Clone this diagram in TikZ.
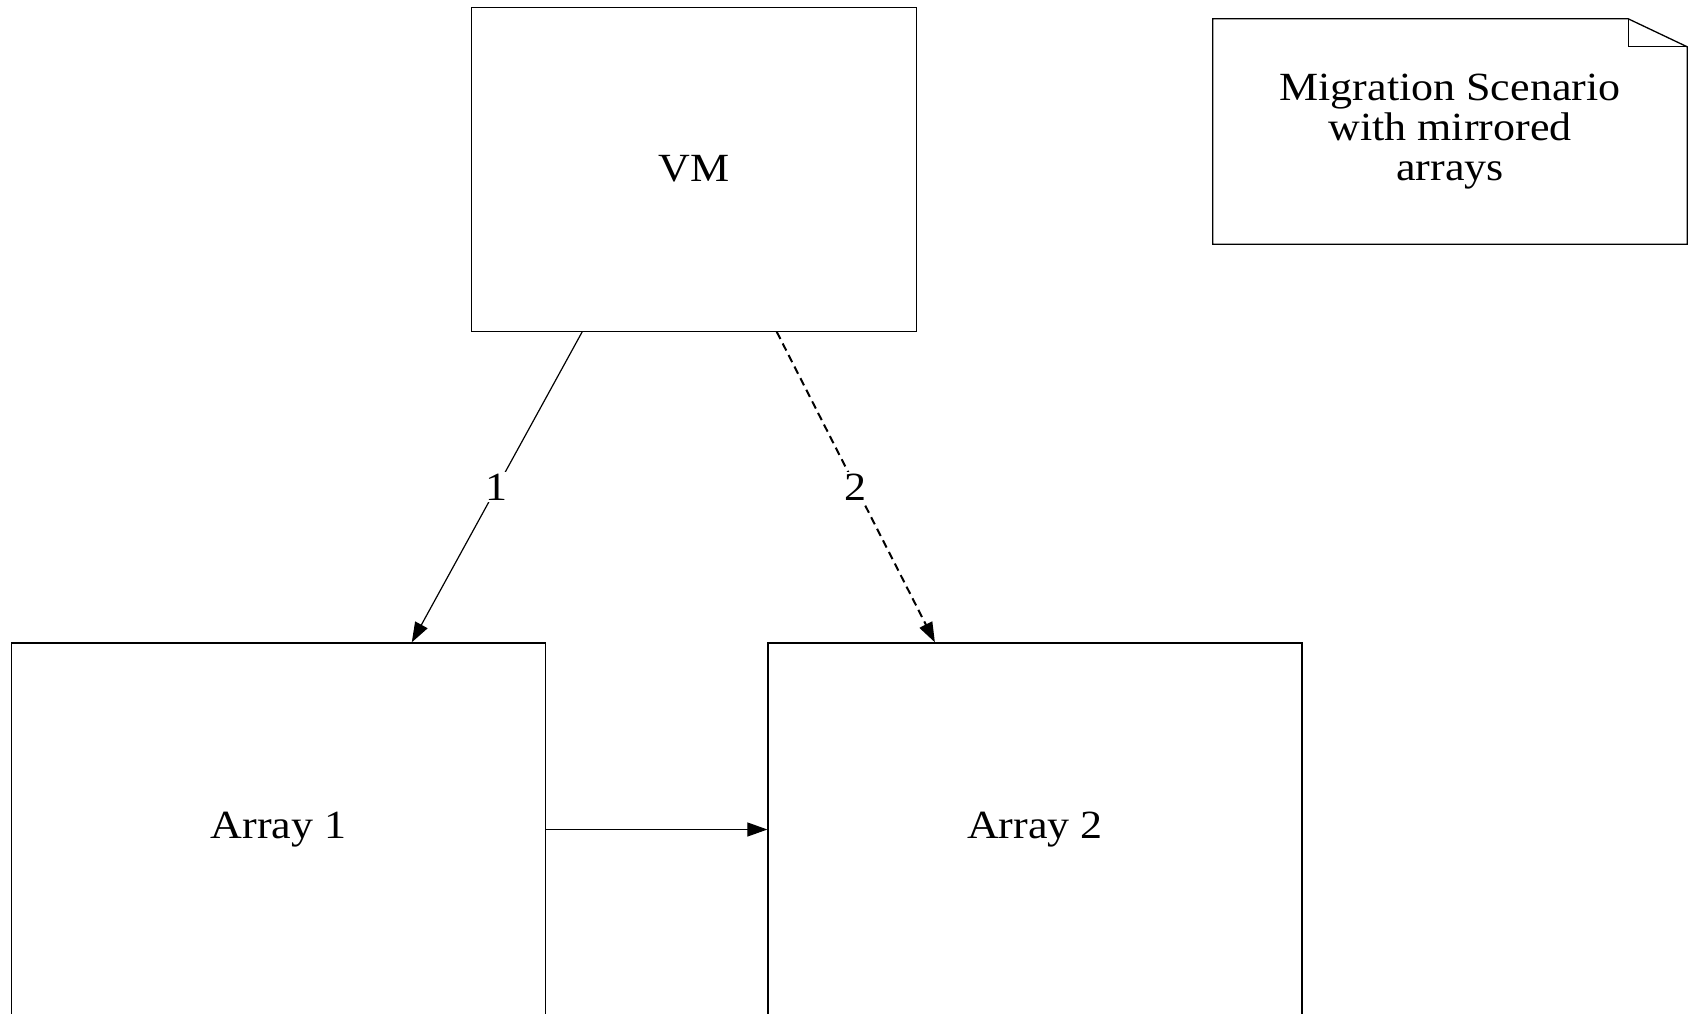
\documentclass[tikz,border=0pt]{standalone}
\usepackage{fontspec}
\setmainfont{Liberation Serif}[FakeStretch=1.1]
\usetikzlibrary{arrows.meta,calc}
\begin{document}
\begin{tikzpicture}[x=1pt,y=-1pt,
  box/.style={draw, line width=1.3pt, minimum width=#1, inner sep=0pt, font=\fontsize{40}{40}\selectfont},
  conn/.style={line width=1.2pt, -{Triangle[length=20pt,width=14pt]}},
  elabel/.style={fill=white, inner sep=2pt, font=\fontsize{40}{40}\selectfont},
  notetext/.style={align=center, inner sep=0pt, font=\fontsize{40}{40}\selectfont}]
\useasboundingbox (0,0) rectangle (1689,1014);
\fill[white] (0,0) rectangle (1689,1014);
\clip (0,0) rectangle (1689,1014);
\node[box=445pt, minimum height=324pt] (vm) at (694.2,169.2) {VM};
\node[box=534pt, minimum height=373pt] (a1) at (278.5,829.5) {Array 1};
\node[box=534pt, minimum height=373pt] (a2) at (1035,829.5) {Array 2};
\node[notetext, minimum width=474pt, minimum height=225pt] (note) at (1450,131.5) {Migration Scenario\\with mirrored\\arrays};
\draw[line width=1.3pt] (note.north west) -- ($(note.north east)+(-59,0)$) -- ($(note.north east)+(0,28)$) -- (note.south east) -- (note.south west) -- cycle;
\draw[line width=1.3pt] ($(note.north east)+(-59,0)$) -- ($(note.north east)+(-59,28)$) -- ($(note.north east)+(0,28)$);
\draw[conn] ($(vm.south west)!0.249!(vm.south east)$) -- node[elabel, midway] (l1) {1} ($(a1.north west)!0.749!(a1.north east)$);
\draw[conn, line width=2pt, dash pattern=on 8pt off 5pt] ($(vm.south west)!0.685!(vm.south east)$) -- node[elabel, midway] (l2) {2} ($(a2.north west)!0.313!(a2.north east)$);
\draw[conn] (a1.east) -- (a2.west);
\end{tikzpicture}
\end{document}
